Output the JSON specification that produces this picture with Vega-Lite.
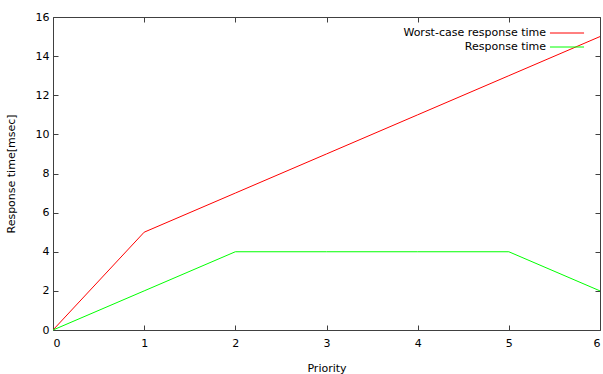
{
  "$schema": "https://vega.github.io/schema/vega-lite/v6.json",
  "width": 547,
  "height": 313,
  "autosize": "none",
  "padding": {"left": 53, "top": 17, "right": 3, "bottom": 44},
  "background": "white",
  "config": {
    "view": {"stroke": "#404040", "strokeWidth": 1},
    "axis": {
      "grid": false,
      "domain": false,
      "ticks": true,
      "tickSize": 5,
      "offset": -5,
      "labelFont": "DejaVu Sans",
      "labelFontSize": 11,
      "labelColor": "#000000",
      "titleFont": "DejaVu Sans",
      "titleFontSize": 11,
      "titleFontWeight": "normal",
      "titleColor": "#000000",
      "tickColor": "#404040",
      "tickWidth": 1
    },
    "legend": {
      "labelFont": "DejaVu Sans",
      "labelFontSize": 11,
      "labelColor": "#000000"
    }
  },
  "data": {
    "values": [
      {"priority": 0, "value": 0, "series": "Worst-case response time"},
      {"priority": 1, "value": 5, "series": "Worst-case response time"},
      {"priority": 2, "value": 7, "series": "Worst-case response time"},
      {"priority": 3, "value": 9, "series": "Worst-case response time"},
      {"priority": 4, "value": 11, "series": "Worst-case response time"},
      {"priority": 5, "value": 13, "series": "Worst-case response time"},
      {"priority": 6, "value": 15, "series": "Worst-case response time"},
      {"priority": 0, "value": 0, "series": "Response time"},
      {"priority": 1, "value": 2, "series": "Response time"},
      {"priority": 2, "value": 4, "series": "Response time"},
      {"priority": 3, "value": 4, "series": "Response time"},
      {"priority": 4, "value": 4, "series": "Response time"},
      {"priority": 5, "value": 4, "series": "Response time"},
      {"priority": 6, "value": 2, "series": "Response time"}
    ]
  },
  "layer": [
    {
      "mark": {"type": "line", "strokeWidth": 1},
      "encoding": {
        "x": {
          "field": "priority", "type": "quantitative",
          "scale": {"domain": [0, 6], "nice": false},
          "axis": {"title": "Priority", "tickCount": 6, "labelPadding": 7, "titlePadding": 14}
        },
        "y": {
          "field": "value", "type": "quantitative",
          "scale": {"domain": [0, 16], "nice": false},
          "axis": {"title": "Response time[msec]", "tickCount": 8, "labelPadding": 4, "titlePadding": 19}
        },
        "color": {
          "field": "series", "type": "nominal",
          "scale": {"domain": ["Worst-case response time", "Response time"], "range": ["#ff0000", "#00ff00"]},
          "legend": {
            "title": null,
            "orient": "none",
            "legendX": 508,
            "legendY": 10,
            "symbolType": "M-3.1,0H3.1",
            "symbolSize": 121,
            "symbolStrokeWidth": 1,
            "labelAlign": "right",
            "labelOffset": -27,
            "rowPadding": 3
          }
        }
      }
    },
    {
      "mark": {"type": "line", "opacity": 0},
      "encoding": {
        "x": {
          "field": "priority", "type": "quantitative",
          "axis": {"orient": "top", "title": null, "labels": false, "tickCount": 6}
        },
        "y": {
          "field": "value", "type": "quantitative",
          "axis": {"orient": "right", "title": null, "labels": false, "tickCount": 8}
        },
        "detail": {"field": "series"}
      }
    }
  ],
  "resolve": {"axis": {"x": "independent", "y": "independent"}}
}
